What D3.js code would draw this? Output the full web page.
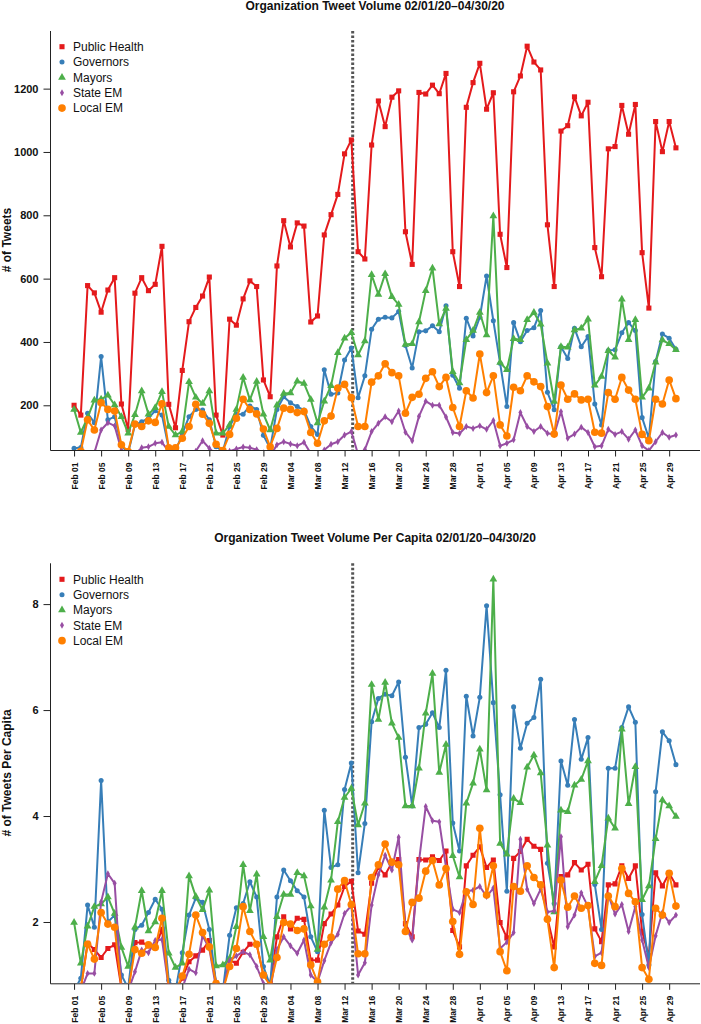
<!DOCTYPE html>
<html>
<head>
<meta charset="utf-8">
<script src="https://cdn.jsdelivr.net/npm/d3@7"></script>
<style>
  html, body { margin: 0; padding: 0; background: #fff; }
  svg { display: block; }
  text { font-family: "Liberation Sans", Arial, Helvetica, sans-serif; }
</style>
</head>
<body>
<svg id="chart" width="701" height="1024"></svg>
<script>
// ---------------- DATA ----------------
const startDate = "2020-02-01";
const nDays = 90;
const seriesNames = ["Public Health", "Governors", "Mayors", "State EM", "Local EM"];
const seriesColors = ["#E41A1C", "#377EB8", "#4DAF4A", "#984EA3", "#FF7F00"];
const xTickLabels = ["Feb 01","Feb 05","Feb 09","Feb 13","Feb 17","Feb 21","Feb 25","Feb 29",
  "Mar 04","Mar 08","Mar 12","Mar 16","Mar 20","Mar 24","Mar 28","Apr 01","Apr 05","Apr 09",
  "Apr 13","Apr 17","Apr 21","Apr 25","Apr 29"];
const emergencyDay = 41.2; // days after Feb 01 (Mar 13)

const titleTop = "Organization Tweet Volume 02/01/20\u201304/30/20";
const titleBottom = "Organization Tweet Volume Per Capita 02/01/20\u201304/30/20";
const yLabelTop = "# of Tweets";
const yLabelBottom = "# of Tweets Per Capita";
const yTicksTop = [200, 400, 600, 800, 1000, 1200];
const yTicksBottom = [2, 4, 6, 8];

// Tweet volume
const publicHealth = [200,169,578,555,494,564,603,204,124,554, 603,562,582,702,203,129,310,464,509,545,
  605,169,106,472,453,536,593,575,280,227, 640,783,700,776,766,463,482,738,802,866,
  994,1038,685,662,1022,1161,1080,1173,1193,748, 645,1188,1183,1211,1184,1248,685,575,1141,1219,
  1280,1135,1187,740,635,1190,1240,1334,1284,1259, 770,575,1066,1083,1174,1114,1157,698,606,1010,
  1017,1147,1056,1150,682,507,1096,1001,1096,1013];
const governors = [64,67,175,145,354,154,164,72,50,138, 148,159,183,169,64,55,110,164,187,185,
  154,69,55,133,172,172,198,187,105,64, 187,227,208,196,185,133,108,312,235,239,
  343,381,224,293,440,472,478,476,496,389, 318,432,435,451,432,514,295,254,475,419,
  478,608,467,333,196,461,401,436,445,499, 241,186,385,348,443,385,417,204,138,373,
  375,429,461,436,161,96,338,425,412,377];
const mayors = [187,114,161,216,219,232,201,164,112,170, 245,172,192,243,133,106,117,274,225,206,
  245,112,112,138,187,288,217,275,172,122, 200,237,239,276,269,218,144,213,262,366,
  412,429,359,403,612,550,615,543,518,392, 394,463,562,633,457,506,306,270,407,436,
  493,422,798,335,312,410,407,470,493,456, 333,212,385,383,438,443,472,263,291,372,
  352,535,407,470,225,254,336,406,394,375];
const stateEM = [40,40,40,50,122,145,135,58,40,45, 66,69,80,83,54,40,40,40,55,88,
  64,45,40,55,62,68,66,60,50,40, 75,85,78,72,83,48,38,59,77,85,
  106,117,45,60,117,143,164,148,182,115, 88,165,213,200,200,163,114,111,133,127,
  135,124,152,72,80,91,177,133,117,133, 112,108,180,96,109,131,114,69,72,124,
  108,117,93,122,72,57,85,114,99,106];
const localEM = [40,55,154,122,208,187,182,75,54,141, 133,151,146,205,66,66,96,133,203,172,
  143,77,57,108,159,219,187,173,125,69, 127,191,187,177,180,114,80,151,166,254,
  266,224,133,133,273,293,331,303,293,175, 225,235,285,306,259,288,193,133,246,223,
  362,240,293,138,103,257,246,293,274,259, 196,109,264,219,236,217,219,115,112,240,
  219,288,248,219,108,88,219,204,280,221];

// Tweet volume per capita
const publicHealthPC = [0.7,0.75,1.60,1.48,1.33,1.50,1.57,0.75,0.7,1.61, 1.62,1.55,1.52,1.86,0.8,0.7,0.94,1.25,1.36,1.47,
  1.65,0.85,0.7,1.28,1.22,1.43,1.58,1.57,1.0,0.84, 1.72,2.10,1.87,2.07,2.05,1.28,1.28,1.97,2.15,2.32,
  2.67,2.77,1.83,1.77,2.73,3.03,2.89,3.12,3.18,1.97, 1.72,3.18,3.17,3.23,3.16,3.34,1.84,1.53,3.06,3.26,
  3.42,3.03,3.17,1.99,1.70,3.20,3.33,3.56,3.43,3.37, 2.07,1.53,2.86,2.89,3.12,2.98,3.09,1.87,1.63,2.70,
  2.72,3.06,2.82,3.06,1.82,1.36,2.93,2.68,2.92,2.70];
const governorsPC = [0.7,0.94,2.32,1.90,4.67,2.0,2.13,1.0,0.75,1.86, 1.94,2.18,2.43,2.24,0.9,0.7,1.42,2.13,2.45,2.37,
  1.86,0.84,0.7,1.75,2.27,2.35,2.76,2.47,1.16,0.8, 2.47,2.98,2.78,2.59,2.47,1.72,1.44,4.11,3.03,3.08,
  4.50,5.00,2.93,3.86,5.78,6.22,6.30,6.27,6.53,5.11, 4.19,5.67,5.73,5.95,5.67,6.75,3.87,3.34,6.26,5.51,
  6.24,7.97,6.14,4.40,2.58,6.06,5.28,5.75,5.86,6.58, 3.11,2.35,5.04,4.58,5.82,5.07,5.48,2.71,1.86,4.90,
  4.90,5.67,6.06,5.77,2.14,1.19,4.46,5.59,5.42,4.97];
const mayorsPC = [1.99,1.22,1.92,2.29,2.34,2.47,2.16,1.52,1.16,1.90, 2.59,1.83,2.0,2.59,1.41,1.14,1.22,2.87,2.48,2.23,
  2.6,1.17,1.19,1.31,1.91,3.08,2.21,2.9,1.72,1.28, 2.1,2.52,2.52,2.93,2.87,2.30,1.48,2.28,2.79,3.89,
  4.35,4.52,3.83,4.24,6.48,5.82,6.52,5.75,5.48,4.19, 4.19,4.90,5.94,6.69,4.82,5.35,3.25,2.85,4.24,4.62,
  5.26,4.49,8.47,3.48,3.28,4.33,4.25,4.92,5.15,4.81, 3.45,2.19,4.11,4.08,4.58,4.69,5.04,2.76,3.06,3.96,
  3.77,5.64,4.23,4.93,2.42,2.68,3.57,4.30,4.19,3.99];
const stateEMPC = [0.7,0.7,1.03,1.03,2.38,2.91,2.73,0.8,0.7,1.06, 1.47,1.42,1.65,1.67,0.75,0.7,0.75,1.11,1.04,1.74,
  1.50,0.75,0.7,1.27,1.36,1.44,1.38,1.16,0.84,0.7, 1.48,1.72,1.55,1.41,1.66,1.0,0.87,1.27,1.61,1.77,
  2.16,2.31,1.0,1.23,2.32,2.89,3.26,2.98,3.60,1.91, 1.66,3.14,4.18,3.91,3.89,3.03,2.24,2.18,2.58,2.60,
  2.67,2.48,2.64,1.50,1.62,1.80,3.56,2.62,2.35,2.62, 2.19,2.21,3.61,1.91,2.13,2.55,2.29,1.35,1.42,2.51,
  2.15,2.33,1.82,2.29,1.66,1.14,1.74,2.18,1.99,2.13];
const localEMPC = [0.7,0.75,1.58,1.30,2.18,1.96,1.90,0.75,0.7,1.48, 1.41,1.57,1.52,2.07,0.75,0.7,0.98,1.39,2.13,1.80,
  1.53,0.84,0.7,1.16,1.50,2.29,1.82,1.58,1.0,0.8, 1.33,1.99,1.96,1.84,1.87,1.19,0.87,1.58,1.71,2.62,
  2.78,2.33,1.40,1.40,2.84,3.08,3.47,3.13,3.08,1.82, 2.37,2.45,2.96,3.16,2.70,3.01,2.01,1.39,2.57,2.33,
  3.77,2.51,3.06,1.44,1.08,2.67,2.58,3.06,2.84,2.70, 2.05,1.14,2.79,2.28,2.49,2.26,2.31,1.22,1.18,2.49,
  2.29,3.01,2.54,2.38,1.14,0.92,2.26,2.13,2.92,2.30];

// ---------------- DRAW ----------------
const svg = d3.select("#chart");
const parse = d3.utcParse("%Y-%m-%d");
const d0 = parse(startDate);
const dates = d3.utcDay.range(d0, d3.utcDay.offset(d0, nDays));
const DAY = 86400000;
const pad = 3.56 * DAY;
const x = d3.scaleUtc()
  .domain([new Date(+dates[0] - pad), new Date(+dates[nDays - 1] + pad)])
  .range([50, 700]);
const tickDates = dates.filter((d, i) => i % 4 === 0);

const symbols = [
  d3.symbol().type(d3.symbolSquare).size(26),
  d3.symbol().type(d3.symbolCircle).size(20),
  d3.symbol().type(d3.symbolTriangle).size(26),
  d3.symbol().type(d3.symbolDiamond).size(14),
  d3.symbol().type(d3.symbolCircle).size(46)
];

function panel(cfg) {
  const y = d3.scaleLinear().domain(cfg.yDomain).range([cfg.bottom, cfg.top]);
  const g = svg.append("g");
  const clipId = "clip" + cfg.id;
  svg.append("defs").append("clipPath").attr("id", clipId)
    .append("rect").attr("x", 50).attr("y", cfg.top).attr("width", 650).attr("height", cfg.bottom - cfg.top);

  // title
  g.append("text").attr("x", 375).attr("y", cfg.titleY).attr("text-anchor", "middle")
    .attr("font-size", 12).attr("font-weight", "bold").attr("fill", "#111").text(cfg.title);

  // y label
  g.append("text").attr("transform", `translate(11,${cfg.yLabelY}) rotate(-90)`)
    .attr("text-anchor", "middle").attr("font-size", 12).attr("font-weight", "bold")
    .attr("fill", "#111").text(cfg.yLabel);

  // axes lines (L-shaped box)
  g.append("line").attr("x1", 50.5).attr("x2", 50.5).attr("y1", cfg.top).attr("y2", cfg.bottom + 0.5)
    .attr("stroke", "#222").attr("stroke-width", 1);
  g.append("line").attr("x1", 50.5).attr("x2", 700).attr("y1", cfg.bottom + 0.5).attr("y2", cfg.bottom + 0.5)
    .attr("stroke", "#222").attr("stroke-width", 1);

  // y axis ticks
  const yAxis = d3.axisLeft(y).tickValues(cfg.yTicks).tickSize(7).tickPadding(5).tickFormat(d3.format("d"));
  const ya = g.append("g").attr("transform", "translate(50.5,0)").call(yAxis);
  ya.select(".domain").remove();
  ya.selectAll("line").attr("stroke", "#222");
  ya.selectAll("text").attr("font-size", 11).attr("font-weight", "bold").attr("fill", "#111")
    .attr("font-family", "Liberation Sans, Arial, sans-serif");

  // x axis ticks
  const xAxis = d3.axisBottom(x).tickValues(tickDates).tickSize(6).tickFormat((d, i) => xTickLabels[i]);
  const xa = g.append("g").attr("transform", `translate(0,${cfg.bottom + 0.5})`).call(xAxis);
  xa.select(".domain").remove();
  xa.selectAll("line").attr("stroke", "#222");
  xa.selectAll("text")
    .attr("font-size", 8.5).attr("font-weight", "bold").attr("fill", "#111")
    .attr("font-family", "Liberation Sans, Arial, sans-serif")
    .attr("text-anchor", "end")
    .attr("transform", "translate(0,12) rotate(-90)")
    .attr("x", 0).attr("y", 0).attr("dy", "0.35em");

  // dotted vertical line
  const xe = x(new Date(+dates[0] + emergencyDay * DAY));
  g.append("line").attr("x1", xe).attr("x2", xe).attr("y1", cfg.top).attr("y2", cfg.bottom)
    .attr("stroke", "#555").attr("stroke-width", 3).attr("stroke-dasharray", "2.5,2");

  // series
  const plot = g.append("g").attr("clip-path", `url(#${clipId})`);
  const line = d3.line().x((d, i) => x(dates[i])).y(d => y(d));
  cfg.series.forEach((vals, k) => {
    plot.append("path").datum(vals).attr("d", line).attr("fill", "none")
      .attr("stroke", seriesColors[k]).attr("stroke-width", 2).attr("stroke-linejoin", "round");
    plot.selectAll(null).data(vals).enter().append("path")
      .attr("d", symbols[k])
      .attr("transform", (d, i) => `translate(${x(dates[i])},${y(d)})`)
      .attr("fill", seriesColors[k]);
  });

  // legend
  const lg = g.append("g");
  seriesNames.forEach((name, k) => {
    const ly = cfg.legendY + k * 15.35;
    lg.append("path").attr("d", symbols[k]).attr("transform", `translate(62,${ly})`).attr("fill", seriesColors[k]);
    lg.append("text").attr("x", 73).attr("y", ly).attr("dy", "0.36em").attr("font-size", 12)
      .attr("fill", "#111").text(name);
  });
}

panel({
  id: "top", top: 31, bottom: 450, yDomain: [58.8, 1382], yTicks: yTicksTop,
  title: titleTop, titleY: 9.5, yLabel: yLabelTop, yLabelY: 240, legendY: 46.7,
  series: [publicHealth, governors, mayors, stateEM, localEM]
});
panel({
  id: "bottom", top: 563.3, bottom: 983.3, yDomain: [0.843, 8.77], yTicks: yTicksBottom,
  title: titleBottom, titleY: 542, yLabel: yLabelBottom, yLabelY: 773, legendY: 579.3,
  series: [publicHealthPC, governorsPC, mayorsPC, stateEMPC, localEMPC]
});
</script>
</body>
</html>
